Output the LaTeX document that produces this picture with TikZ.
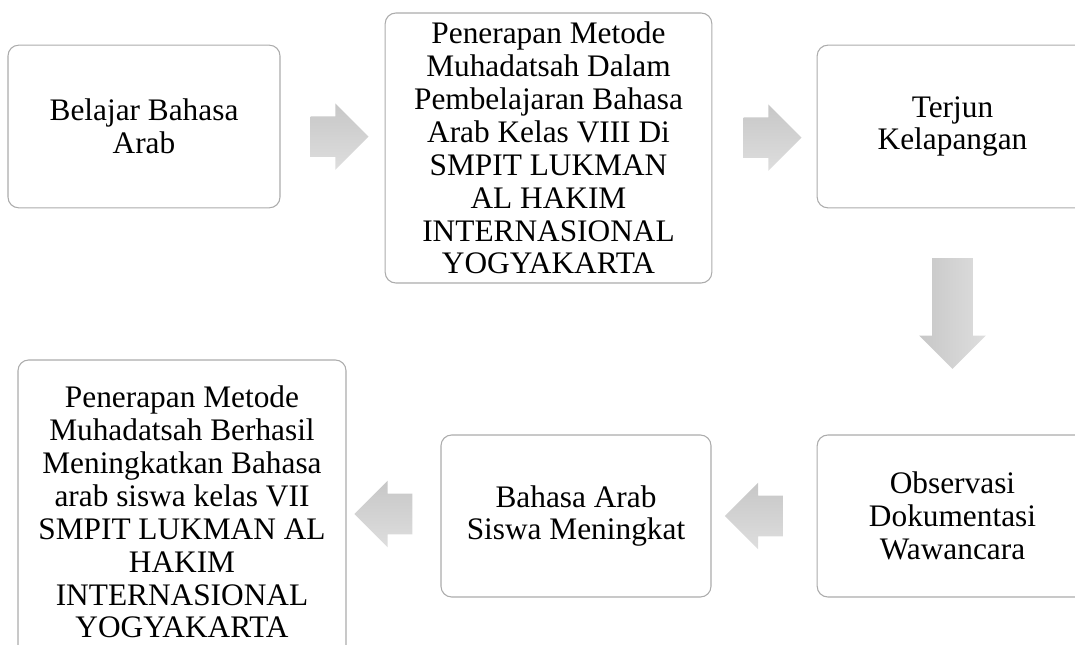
\documentclass[tikz,border=0pt]{standalone}
\usepackage{fontspec}
\setmainfont{Liberation Serif}
\usetikzlibrary{shapes.arrows,calc}

\tikzset{
  box/.style={draw=gray!65, line width=0.8pt, fill=white, rounded corners=8pt,
    align=center, inner sep=0pt, font=\fontsize{23.5pt}{24.7pt}\selectfont},
  blockarrow/.style={single arrow, draw=none, top color=black!22, bottom color=black!13,
    inner xsep=0pt, inner ysep=15pt, single arrow head extend=9.75pt,
    minimum height=43.5pt, anchor=center}
}

\begin{document}
\begin{tikzpicture}[x=0.75pt,y=-0.75pt]
\useasboundingbox (0,0) rectangle (1075,645);

\node[box, minimum width=204pt, minimum height=122pt] (belajar) at (144,126.5)
  {Belajar Bahasa\\Arab};
\node[box, minimum width=245pt, minimum height=202.5pt] (penerapan) at (548.5,148)
  {Penerapan Metode\\Muhadatsah Dalam\\Pembelajaran Bahasa\\Arab Kelas VIII Di\\SMPIT LUKMAN\\AL HAKIM\\INTERNASIONAL\\YOGYAKARTA};
\node[box, minimum width=203pt, minimum height=122pt] (terjun) at (952.5,126.5)
  {Terjun\\Kelapangan};
\node[box, minimum width=203pt, minimum height=121.5pt] (observasi) at (952.5,516)
  {Observasi\\Dokumentasi\\Wawancara};
\node[box, minimum width=202.5pt, minimum height=121.5pt] (meningkat) at (576,516)
  {Bahasa Arab\\Siswa Meningkat};
\node[box, minimum width=246pt, minimum height=228pt] (berhasil) at (182,512)
  {Penerapan Metode\\Muhadatsah Berhasil\\Meningkatkan Bahasa\\arab siswa kelas VII\\SMPIT LUKMAN AL\\HAKIM\\INTERNASIONAL\\YOGYAKARTA};

\node[blockarrow] (a1) at ($(belajar.east)!0.47!(penerapan.west)$) {};
\node[blockarrow] (a2) at ($(penerapan.east)!0.48!(terjun.west)$) {};
\node[blockarrow, rotate=-90, minimum height=83pt, left color=black!22, right color=black!13] (a3)
  at ($(terjun.south)!0.42!(observasi.north)$) {};
\node[blockarrow, shape border rotate=180] (a4) at ($(observasi.west)!0.5!(meningkat.east)$) {};
\node[blockarrow, shape border rotate=180] (a5) at ($(meningkat.west)!0.5!(berhasil.east)$) {};
\end{tikzpicture}
\end{document}
